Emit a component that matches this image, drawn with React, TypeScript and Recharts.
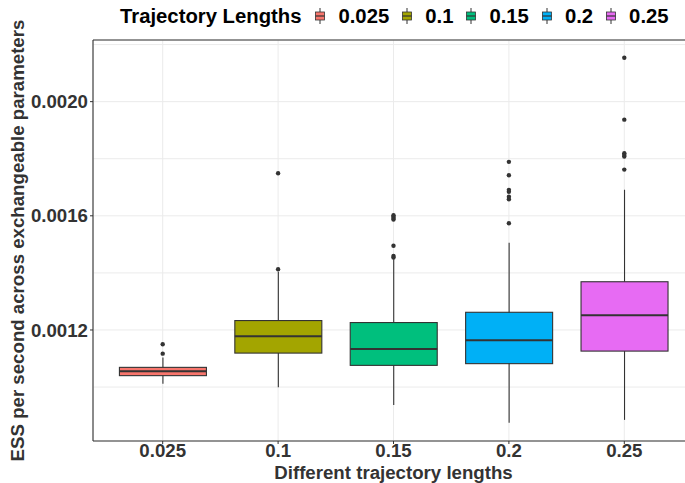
import {
  ComposedChart,
  Bar,
  Scatter,
  XAxis,
  YAxis,
  CartesianGrid,
} from 'recharts';

const categories = ['0.025', '0.1', '0.15', '0.2', '0.25'];
const lowerWhisker = [0.001012, 0.000999, 0.000937, 0.000875, 0.000885];
const lowerQuartile = [0.00104, 0.001119, 0.001076, 0.001082, 0.001126];
const medians = [0.001055, 0.001178, 0.001133, 0.001164, 0.001252];
const upperQuartile = [0.001069, 0.001233, 0.001226, 0.001262, 0.001369];
const upperWhisker = [0.001104, 0.001404, 0.001448, 0.001506, 0.001691];
const outliers = [
  [0.00115, 0.001117],
  [0.001749, 0.001413],
  [0.001602, 0.001597, 0.001592, 0.001587, 0.001495, 0.001459, 0.001454],
  [0.001789, 0.001742, 0.001691, 0.001684, 0.001667, 0.001658, 0.001574],
  [0.002154, 0.001937, 0.001819, 0.001813, 0.001808, 0.001762],
];
const yTicks = [0.0012, 0.0016, 0.002];
const gridTicks = [0.001, 0.0012, 0.0014, 0.0016, 0.0018, 0.002, 0.0022];
const yDomain = [0.000811, 0.002216];

const fills = ['#F8766D', '#A3A500', '#00BF7D', '#00B0F6', '#E76BF3'];
const font = "'Liberation Sans', Arial, sans-serif";
const ink = '#333333';

const boxData = categories.map((name, i) => ({
  name,
  whisker: [lowerWhisker[i], upperWhisker[i]],
  lo: lowerWhisker[i],
  q1: lowerQuartile[i],
  med: medians[i],
  q3: upperQuartile[i],
  hi: upperWhisker[i],
}));

const outlierData = categories.flatMap((name, i) =>
  outliers[i].map((value) => ({ name, value }))
);

// the bar covers the whisker range; the box inside it is placed on the same linear scale
function BoxShape(props: any) {
  const { x, y, width, height, payload, index } = props;
  const { lo, q1, med, q3, hi } = payload;
  const py = (v: number) => y + (height * (hi - v)) / (hi - lo);
  const cx = x + width / 2;
  return (
    <g>
      <line x1={cx} x2={cx} y1={py(hi)} y2={py(lo)} stroke={ink} strokeWidth={1.1} />
      <rect
        x={x}
        y={py(q3)}
        width={width}
        height={py(q1) - py(q3)}
        fill={fills[index]}
        stroke={ink}
        strokeWidth={1.1}
      />
      <line x1={x} x2={x + width} y1={py(med)} y2={py(med)} stroke={ink} strokeWidth={2} />
    </g>
  );
}

function LegendKey({ color }: { color: string }) {
  return (
    <svg width={12} height={16}>
      <line x1={6} x2={6} y1={0} y2={16} stroke={ink} strokeWidth={1} />
      <rect x={1.5} y={4} width={9} height={8} fill={color} stroke={ink} strokeWidth={0.8} />
      <line x1={1.5} x2={10.5} y1={8} y2={8} stroke={ink} strokeWidth={1.2} />
    </svg>
  );
}

export default function App() {
  const tickStyle = { fill: ink, fontSize: 18.67, fontWeight: 700, fontFamily: font };
  return (
    <div
      style={{
        position: 'absolute',
        left: 0,
        top: 0,
        width: 685,
        height: 483,
        overflow: 'hidden',
        background: '#fff',
      }}
    >
      <div
        style={{
          position: 'absolute',
          left: 120,
          top: 0,
          height: 32,
          display: 'flex',
          alignItems: 'center',
          fontFamily: font,
          fontWeight: 700,
          fontSize: 20.3,
          color: '#000',
          whiteSpace: 'nowrap',
        }}
      >
        <span style={{ marginRight: 13 }}>Trajectory Lengths</span>
        {categories.map((c, i) => (
          <div key={c} style={{ display: 'flex', alignItems: 'center', marginRight: 12 }}>
            <LegendKey color={fills[i]} />
            <span style={{ marginLeft: 12 }}>{c}</span>
          </div>
        ))}
      </div>
      <ComposedChart
        width={694}
        height={483}
        data={boxData}
        margin={{ top: 40, right: 0, left: 0, bottom: 0 }}
        barCategoryGap="12.5%"
      >
        <CartesianGrid yAxisId="grid" stroke="#EBEBEB" strokeWidth={1} />
        <XAxis
          dataKey="name"
          allowDuplicatedCategory={false}
          padding={{ left: 12, right: 12 }}
          height={42}
          tickSize={3}
          tickMargin={0}
          tick={tickStyle}
          tickLine={{ stroke: ink }}
          axisLine={{ stroke: ink, strokeWidth: 1.1 }}
          label={{
            value: 'Different trajectory lengths',
            position: 'insideBottom',
            offset: 4.5,
            style: { fill: ink, fontSize: 18.67, fontWeight: 700, fontFamily: font },
          }}
        />
        <XAxis
          xAxisId="top"
          dataKey="name"
          orientation="top"
          mirror
          tick={false}
          tickLine={false}
          axisLine={{ stroke: ink, strokeWidth: 1.1 }}
        />
        <YAxis
          type="number"
          domain={yDomain}
          allowDataOverflow
          ticks={yTicks}
          tickFormatter={(v: number) => v.toFixed(4)}
          width={93}
          tickSize={3}
          tickMargin={2}
          tick={tickStyle}
          tickLine={{ stroke: ink }}
          axisLine={{ stroke: ink, strokeWidth: 1.1 }}
          label={{
            value: 'ESS per second across exchangeable parameters',
            angle: -90,
            position: 'insideLeft',
            offset: 17,
            style: {
              textAnchor: 'middle',
              fill: ink,
              fontSize: 18.67,
              fontWeight: 700,
              fontFamily: font,
            },
          }}
        />
        <YAxis
          yAxisId="grid"
          type="number"
          domain={yDomain}
          allowDataOverflow
          ticks={gridTicks}
          hide
        />
        <Bar dataKey="whisker" shape={BoxShape} isAnimationActive={false} />
        <Scatter
          data={outlierData}
          dataKey="value"
          isAnimationActive={false}
          shape={(p: any) => <circle cx={p.cx} cy={p.cy} r={2.2} fill={ink} />}
        />
      </ComposedChart>
    </div>
  );
}
